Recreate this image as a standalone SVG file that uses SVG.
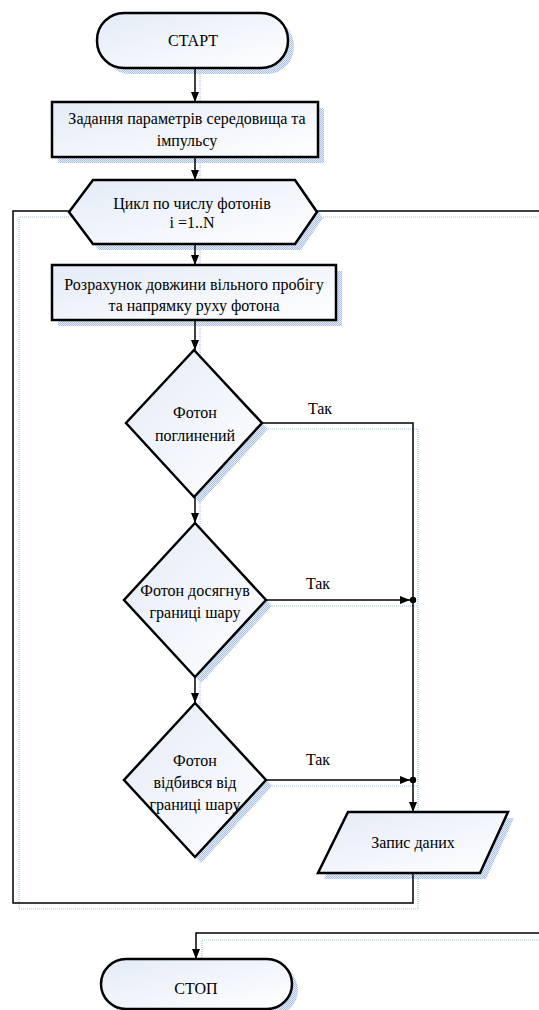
<svg xmlns="http://www.w3.org/2000/svg" width="539" height="1010" viewBox="0 0 539 1010">
<defs>
<linearGradient id="g" x1="0" y1="0" x2="1" y2="1">
<stop offset="0" stop-color="#e4ebf7"/>
<stop offset="1" stop-color="#ffffff"/>
</linearGradient>
<pattern id="sh" width="2" height="2" patternUnits="userSpaceOnUse">
<rect width="2" height="2" fill="#e6edf9"/>
<rect width="1" height="1" fill="#a9c1e8"/>
<rect x="1" y="1" width="1" height="1" fill="#a9c1e8"/>
</pattern>
<marker id="ar" markerUnits="userSpaceOnUse" markerWidth="10" markerHeight="10" refX="10" refY="5" orient="auto">
<path d="M0,1 L10,5 L0,9 z" fill="#000"/>
</marker>
</defs>
<style>
.node{fill:url(#g);stroke:#000;stroke-width:2.5}
.shadow{fill:url(#sh);stroke:none}
.c{fill:none;stroke:#000;stroke-width:1.5}
.cs{fill:none;stroke:#a9c1e8;stroke-width:1.2;stroke-dasharray:1 1}
text{font-size:16px;fill:#000;text-anchor:middle}
</style>

<g id="shadows">
<rect class="shadow" x="103" y="19" width="191" height="55" rx="27"/>
<rect class="shadow" x="58" y="108" width="266" height="55"/>
<polygon class="shadow" points="99,186 301,186 323,218 301,250 99,250 75,218"/>
<rect class="shadow" x="58" y="271" width="284" height="55"/>
<polygon class="shadow" points="200,356 268,429 200,503 132,429"/>
<polygon class="shadow" points="201,529 272,606 201,683 130,606"/>
<polygon class="shadow" points="201,709 272,786 201,863 130,786"/>
<polygon class="shadow" points="354,818 514,818 486,879 324,879"/>
<rect class="shadow" x="107" y="965" width="191" height="50" rx="25"/>
</g>

<g id="connector-shadows">
<path class="cs" d="M200,74 V108"/>
<path class="cs" d="M200,163 V186"/>
<path class="cs" d="M200,250 V271"/>
<path class="cs" d="M200,326 V356"/>
<path class="cs" d="M200,503 V529"/>
<path class="cs" d="M200,683 V709"/>
<path class="cs" d="M268,429 H418 V818"/>
<path class="cs" d="M272,606 H418"/>
<path class="cs" d="M272,786 H418"/>
<path class="cs" d="M418,879 V909 H19 V217 H75"/>
<path class="cs" d="M323,217 H539"/>
<path class="cs" d="M539,940 H202 V965"/>
</g>

<g font-family="'Liberation Serif', Tinos, 'Times New Roman', Times, 'DejaVu Serif', serif">
<g id="connectors">
<path class="c" d="M195,68 V102" marker-end="url(#ar)"/>
<path class="c" d="M195,157 V180" marker-end="url(#ar)"/>
<path class="c" d="M195,244 V265" marker-end="url(#ar)"/>
<path class="c" d="M195,320 V350" marker-end="url(#ar)"/>
<path class="c" d="M195,497 V523" marker-end="url(#ar)"/>
<path class="c" d="M195,677 V703" marker-end="url(#ar)"/>
<path class="c" d="M262,423 H413 V780"/>
<path class="c" d="M413,780 V812" marker-end="url(#ar)"/>
<path class="c" d="M266,600 H410" marker-end="url(#ar)"/>
<path class="c" d="M266,780 H410" marker-end="url(#ar)"/>
<circle cx="413" cy="600" r="3.2" fill="#000"/>
<circle cx="413" cy="780" r="3.2" fill="#000"/>
<path class="c" d="M413,873 V903 H13 V211 H69"/>
<path class="c" d="M317,211 H539"/>
<path class="c" d="M539,933 H196 V959" marker-end="url(#ar)"/>
<text x="320" y="414">Так</text>
<text x="318" y="589">Так</text>
<text x="318" y="765">Так</text>
</g>

<g id="start">
<rect class="node" x="97" y="13" width="191" height="55" rx="27"/>
<text x="193" y="46">СТАРТ</text>
</g>

<g id="params">
<rect class="node" x="52" y="102" width="266" height="55"/>
<text x="187" y="124">Задання параметрів середовища та</text>
<text x="187" y="146">імпульсу</text>
</g>

<g id="loop">
<polygon class="node" points="93,180 295,180 317,212 295,244 93,244 69,212"/>
<text x="192" y="209">Цикл по числу фотонів</text>
<text x="192" y="228">i =1..N</text>
</g>

<g id="calc">
<rect class="node" x="52" y="265" width="284" height="55"/>
<text x="194" y="290">Розрахунок довжини вільного пробігу</text>
<text x="194" y="311">та напрямку руху фотона</text>
</g>

<g id="absorbed">
<polygon class="node" points="194,350 262,423 194,497 126,423"/>
<text x="195" y="418">Фотон</text>
<text x="195" y="441">поглинений</text>
</g>

<g id="boundary">
<polygon class="node" points="195,523 266,600 195,677 124,600"/>
<text x="195" y="596">Фотон досягнув</text>
<text x="195" y="618">границі шару</text>
</g>

<g id="reflected">
<polygon class="node" points="195,703 266,780 195,857 124,780"/>
<text x="195" y="766">Фотон</text>
<text x="195" y="788">відбився від</text>
<text x="195" y="810">границі шару</text>
</g>

<g id="write">
<polygon class="node" points="348,812 508,812 480,873 318,873"/>
<text x="413" y="848">Запис даних</text>
</g>

<g id="stop">
<rect class="node" x="101" y="959" width="191" height="50" rx="25"/>
<text x="196" y="994">СТОП</text>
</g>
</g>
</svg>
